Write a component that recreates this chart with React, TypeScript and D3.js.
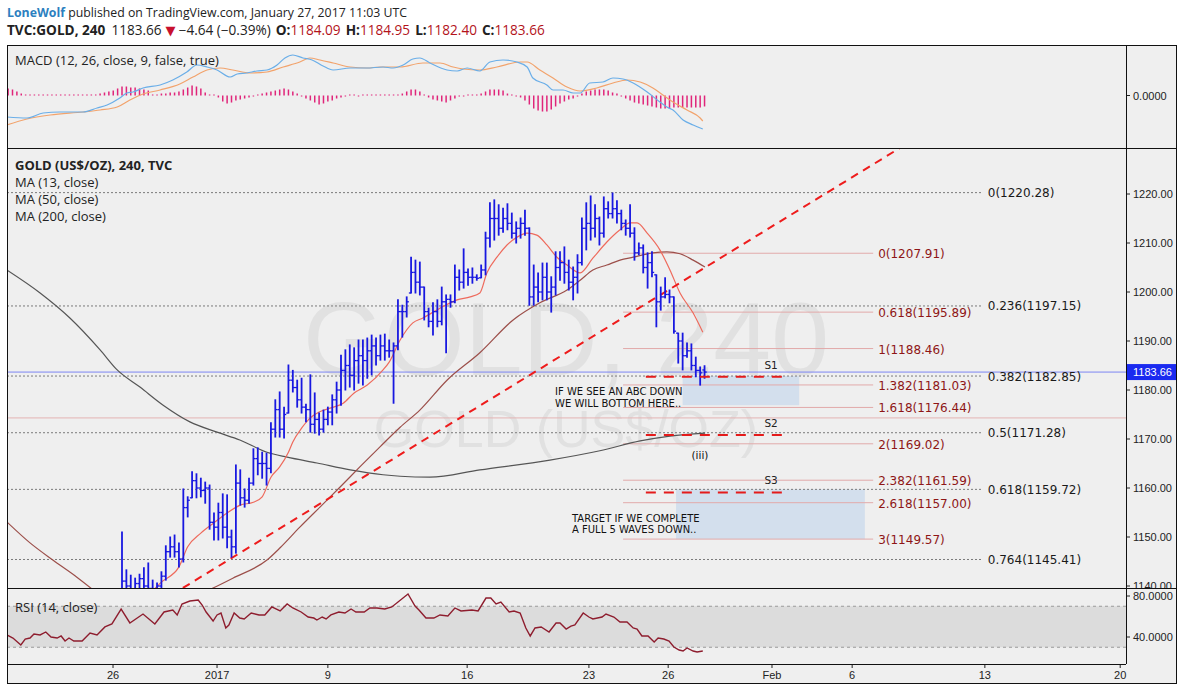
import React from "react";
import * as d3 from "d3";

// ---------- DATA (4h bars, index 0 = first bar visible in price pane) ----------
const barHigh = [
  1151.0, 1143.3, 1142.2, 1141.6, 1142.4, 1143.7, 1144.7, 1141.2, 1140.6, 1142.9,
  1148.2, 1150.0, 1150.4, 1148.8, 1159.8, 1158.2, 1163.3, 1162.9, 1162.0, 1161.2,
  1160.6, 1154.9, 1156.9, 1158.8, 1158.6, 1151.4, 1164.7, 1163.7, 1159.8, 1162.0,
  1168.0, 1168.2, 1167.3, 1167.1, 1173.3, 1178.0, 1179.6, 1176.5, 1185.1, 1184.0,
  1182.0, 1182.4, 1177.1, 1183.1, 1179.4, 1175.3, 1175.9, 1176.5, 1179.0, 1181.6,
  1187.1, 1188.2, 1189.2, 1188.6, 1190.2, 1190.2, 1190.6, 1191.2, 1190.6, 1191.2,
  1191.4, 1190.2, 1189.6, 1198.4, 1197.3, 1199.0, 1207.1, 1206.5, 1206.1, 1201.0,
  1196.7, 1197.8, 1198.4, 1201.0, 1199.4, 1199.4, 1205.5, 1204.5, 1208.8, 1204.7,
  1204.9, 1203.5, 1205.5, 1212.2, 1218.2, 1218.8, 1217.8, 1217.1, 1218.0, 1216.1,
  1214.3, 1215.1, 1216.7, 1213.1, 1205.5, 1203.9, 1205.9, 1205.9, 1203.1, 1208.2,
  1208.2, 1209.2, 1206.5, 1205.1, 1207.6, 1215.1, 1218.2, 1219.6, 1217.8, 1215.3,
  1219.4, 1218.4, 1220.2, 1218.6, 1216.7, 1214.7, 1217.8, 1213.1, 1210.0, 1209.6,
  1208.0, 1208.2, 1203.5, 1201.0, 1202.9, 1200.4, 1199.0, 1191.6, 1191.6, 1189.6,
  1189.4, 1186.7, 1184.7, 1184.95,
];
const barLow = [
  1133.5, 1138.5, 1137.5, 1137.8, 1138.0, 1139.5, 1138.2, 1138.0, 1137.5, 1138.5,
  1141.2, 1145.9, 1145.9, 1143.9, 1144.9, 1154.1, 1158.0, 1158.0, 1158.2, 1156.9,
  1151.6, 1149.4, 1149.4, 1149.8, 1147.8, 1145.9, 1146.7, 1156.5, 1156.1, 1156.9,
  1160.6, 1162.7, 1162.0, 1160.6, 1163.1, 1170.4, 1170.4, 1170.2, 1175.3, 1179.6,
  1176.5, 1175.3, 1173.5, 1171.4, 1171.2, 1170.8, 1171.4, 1172.9, 1172.9, 1175.3,
  1176.9, 1180.0, 1180.6, 1180.0, 1181.4, 1181.0, 1182.4, 1183.1, 1185.1, 1186.1,
  1186.1, 1186.7, 1177.3, 1188.2, 1190.8, 1194.9, 1199.8, 1199.8, 1199.4, 1194.3,
  1192.9, 1191.2, 1192.9, 1193.3, 1187.6, 1196.9, 1197.8, 1200.4, 1200.8, 1201.4,
  1201.8, 1202.4, 1202.9, 1203.5, 1209.2, 1210.6, 1211.6, 1212.2, 1212.7, 1211.0,
  1210.0, 1211.0, 1211.6, 1197.3, 1197.3, 1198.0, 1198.4, 1198.4, 1195.9, 1199.4,
  1202.4, 1201.8, 1200.4, 1198.4, 1199.8, 1205.5, 1208.6, 1210.6, 1211.2, 1209.6,
  1211.2, 1215.1, 1215.1, 1214.1, 1212.7, 1211.6, 1211.2, 1206.5, 1207.6, 1203.9,
  1200.8, 1203.1, 1192.9, 1196.3, 1198.8, 1197.8, 1191.6, 1185.5, 1184.1, 1186.7,
  1184.1, 1182.7, 1181.0, 1182.4,
];
const barOpen = [
  1136.0, 1141.0, 1140.0, 1139.0, 1140.5, 1141.5, 1140.0, 1139.5, 1139.0, 1140.0,
  1142.0, 1147.0, 1148.0, 1147.0, 1145.5, 1156.0, 1158.0, 1161.5, 1160.0, 1159.5,
  1160.0, 1153.0, 1152.0, 1155.0, 1152.0, 1150.0, 1148.0, 1161.0, 1158.0, 1157.5,
  1161.0, 1166.0, 1165.0, 1165.0, 1164.0, 1172.0, 1176.0, 1172.0, 1175.3, 1182.0,
  1180.5, 1178.0, 1176.5, 1176.0, 1173.0, 1174.0, 1172.0, 1174.0, 1175.5, 1178.0,
  1180.0, 1184.0, 1185.0, 1183.0, 1186.0, 1187.0, 1186.0, 1188.0, 1189.0, 1187.0,
  1189.0, 1188.0, 1188.0, 1189.0, 1196.0, 1196.0, 1199.8, 1204.0, 1202.0, 1201.0,
  1196.0, 1194.0, 1196.0, 1194.0, 1198.0, 1198.5, 1198.0, 1203.0, 1202.0, 1204.0,
  1203.0, 1203.0, 1202.9, 1204.5, 1211.0, 1215.0, 1215.0, 1213.0, 1215.0, 1214.0,
  1212.0, 1213.0, 1214.0, 1213.0, 1199.0, 1201.0, 1200.0, 1203.0, 1200.0, 1201.0,
  1205.0, 1206.0, 1204.0, 1202.0, 1203.0, 1206.0, 1213.0, 1214.0, 1213.0, 1215.0,
  1212.0, 1217.0, 1216.0, 1217.0, 1216.0, 1214.0, 1213.0, 1212.0, 1208.0, 1209.0,
  1205.0, 1206.0, 1203.5, 1198.0, 1199.0, 1199.5, 1199.0, 1191.6, 1190.0, 1187.0,
  1188.0, 1185.0, 1184.0, 1184.09,
];
const barClose = [
  1141.0, 1140.0, 1139.0, 1140.5, 1141.5, 1140.0, 1139.5, 1139.0, 1140.0, 1142.0,
  1147.0, 1148.0, 1147.0, 1145.5, 1156.0, 1157.5, 1161.5, 1160.0, 1159.5, 1160.0,
  1153.0, 1152.0, 1155.0, 1152.0, 1150.0, 1148.0, 1161.0, 1158.0, 1157.5, 1161.0,
  1166.0, 1165.0, 1165.0, 1164.0, 1172.0, 1176.0, 1172.0, 1175.0, 1182.0, 1180.5,
  1178.0, 1176.5, 1176.0, 1173.0, 1174.0, 1172.0, 1174.0, 1175.5, 1178.0, 1180.0,
  1184.0, 1185.0, 1183.0, 1186.0, 1187.0, 1186.0, 1188.0, 1189.0, 1187.0, 1189.0,
  1188.0, 1188.0, 1189.0, 1196.0, 1196.0, 1198.0, 1204.0, 1202.0, 1201.0, 1196.0,
  1194.0, 1196.0, 1194.0, 1198.0, 1198.5, 1198.0, 1203.0, 1202.0, 1204.0, 1203.0,
  1203.0, 1202.8, 1204.5, 1211.0, 1215.0, 1215.0, 1213.0, 1215.0, 1214.0, 1212.0,
  1213.0, 1214.0, 1213.0, 1199.0, 1201.0, 1200.0, 1203.0, 1200.0, 1201.0, 1205.0,
  1206.0, 1204.0, 1202.0, 1203.0, 1206.0, 1213.0, 1214.0, 1213.0, 1215.0, 1212.0,
  1217.0, 1216.0, 1217.0, 1216.0, 1214.0, 1213.0, 1212.0, 1208.0, 1209.0, 1205.0,
  1206.0, 1204.0, 1198.0, 1199.0, 1199.5, 1199.0, 1192.0, 1190.0, 1187.0, 1188.0,
  1185.0, 1184.0, 1183.5, 1183.66,
];

// moving averages: [bar index, price]
const ma13 = [
  [0, 1136], [5, 1137.5], [9, 1140.8], [13, 1143.9], [15, 1148.0], [18, 1150.8], [21, 1152.9],
  [24, 1154.9], [27, 1156.5], [30, 1157.1], [32, 1158.2], [34, 1162.2], [36, 1164.3],
  [38, 1167.3], [39, 1169.4], [41, 1172.2], [43, 1174.3], [45, 1175.5], [47.5, 1176.3],
  [50.5, 1177.3], [53, 1179.4], [56, 1181.0], [59.6, 1184.1], [61, 1185.7], [63.5, 1190.2],
  [66.4, 1193.7], [68.7, 1194.7], [72.6, 1196.7], [76.5, 1198.4], [79.5, 1199.0],
  [81.7, 1199.8], [83.3, 1203.9], [85.6, 1207.1], [87.9, 1209.6], [90.2, 1211.2],
  [92.5, 1212.0], [94.7, 1211.6], [97, 1209.6], [99.3, 1207.1], [101.6, 1205.5],
  [104.6, 1203.9], [107.5, 1206.9], [110.7, 1210.2], [113.7, 1212.7], [116, 1214.1],
  [117.6, 1214.1], [119.9, 1212.0], [122.8, 1208.6], [125.1, 1204.5], [127.4, 1199.8],
  [130.4, 1195.7], [132.6, 1191.8],
];
const ma50 = [
  [-26.3, 1153.1], [-21, 1148.8], [-15.8, 1145.3], [-10.3, 1141.8], [-6.6, 1139.2],
  [-3, 1136.5], [5, 1134.5], [13, 1136.5], [20.8, 1139.6], [25.3, 1141.6], [33.1, 1145.3],
  [36.1, 1147.8], [40.6, 1152.0], [45.2, 1156.1], [49.8, 1160.2], [54.3, 1164.3],
  [58.9, 1168.4], [63.5, 1172.4], [68, 1175.9], [74.2, 1182.0], [81.7, 1187.6],
  [89.3, 1194.3], [95.4, 1197.8], [101.6, 1200.4], [104.6, 1202.4], [107.5, 1204.5],
  [110.7, 1205.5], [113.7, 1206.5], [116.7, 1207.1], [121.2, 1208.0], [124.4, 1208.2],
  [127.4, 1207.8], [130.4, 1206.5], [133.1, 1205.1],
];
const ma200 = [
  [-26.3, 1204.5], [-18.7, 1199.8], [-11.9, 1194.7], [-5, 1188.2], [-1.1, 1184.1],
  [4.1, 1180.6], [9.4, 1176.9], [15.5, 1173.5], [21.7, 1171.4], [26.9, 1169.8],
  [33.1, 1167.3], [37.7, 1166.3], [44.5, 1165.1], [52.1, 1163.7], [59.6, 1162.7],
  [63.5, 1162.4], [70.3, 1162.2], [81.7, 1163.7], [97.7, 1165.7], [109.1, 1167.6],
  [118.3, 1169.6], [125.1, 1170.6], [133.1, 1171.2],
];

// RSI(14): [bar index, value]
const rsi = [
  [-26.3, 42.0], [-24.9, 39.0], [-23.1, 32.2], [-22.1, 38.0], [-21.0, 39.0], [-20.1, 42.9],
  [-18.7, 42.0], [-17.4, 44.9], [-16.2, 40.0], [-14.8, 39.0], [-13.9, 41.0], [-13.0, 36.1],
  [-12.1, 39.0], [-11.0, 36.1], [-9.1, 36.1], [-7.3, 43.9], [-5.7, 42.0], [-3.9, 49.8],
  [-2.3, 52.7], [-0.2, 67.3], [1.8, 53.7], [4.8, 62.4], [7.5, 52.7], [9.6, 64.4],
  [11.6, 66.3], [12.6, 61.5], [13.7, 72.2], [15.5, 75.1], [17.4, 76.1], [18.3, 71.2],
  [19.2, 64.4], [20.8, 55.6], [21.7, 61.5], [22.6, 63.4], [23.7, 48.8], [24.4, 51.7],
  [25.6, 63.4], [26.9, 58.5], [27.9, 57.6], [29.5, 63.4], [31.3, 61.5], [32.6, 61.5],
  [34.2, 69.3], [36.1, 65.4], [37.7, 72.2], [39.0, 68.3], [40.9, 64.4], [42.5, 59.5],
  [43.8, 58.5], [44.5, 56.6], [45.7, 59.5], [46.6, 57.6], [47.7, 61.5], [49.5, 64.4],
  [50.9, 63.4], [52.3, 67.3], [53.4, 64.4], [55.3, 64.4], [56.6, 68.3], [58.2, 68.3],
  [60.0, 67.3], [61.6, 69.3], [65.3, 82.0], [66.9, 70.2], [67.8, 66.3], [69.4, 58.5],
  [71.2, 58.5], [72.6, 61.5], [74.4, 60.5], [76.0, 68.3], [77.4, 65.4], [79.9, 66.3],
  [81.3, 65.4], [83.1, 78.0], [84.2, 78.0], [85.4, 72.2], [86.5, 74.1], [88.4, 64.4],
  [89.5, 65.4], [90.9, 63.4], [92.2, 48.8], [93.2, 41.0], [94.3, 48.8], [95.7, 49.8],
  [97.5, 44.9], [99.1, 53.7], [100.0, 53.7], [101.4, 47.8], [102.5, 50.7], [103.4, 51.7],
  [105.3, 63.4], [106.6, 59.5], [107.5, 57.6], [109.6, 59.5], [110.5, 62.4], [112.3, 59.5],
  [113.7, 54.6], [115.3, 54.6], [116.7, 48.8], [117.6, 47.8], [118.7, 41.0], [120.1, 41.0],
  [121.5, 35.1], [122.4, 39.0], [123.7, 38.0], [124.9, 36.1], [126.0, 30.2], [127.2, 27.3],
  [128.1, 26.3], [129.0, 29.3], [130.4, 26.3], [131.3, 25.4], [132.6, 26.3],
];

// MACD(12,26,9): [bar index, value]
const macdLine = [
  [-26.3, -3.58], [-21.7, -3.75], [-18.0, -2.92], [-14.2, -2.75], [-8.9, -2.75], [-5.7, -2.08],
  [-3.4, -1.58], [-0.5, -0.42], [1.1, 0.42], [2.5, 0.58], [4.8, 1.25], [8.7, 1.75],
  [11.6, 2.58], [14.8, 3.92], [17.1, 5.08], [19.4, 4.75], [21.7, 4.25], [24.7, 3.08],
  [26.3, 3.58], [28.5, 3.75], [30.8, 4.08], [33.1, 4.25], [35.4, 5.08], [37.2, 6.25],
  [39.0, 6.75], [41.3, 6.25], [43.4, 5.92], [45.9, 4.92], [48.2, 4.25], [52.1, 4.58],
  [55.9, 4.58], [59.6, 4.75], [61.9, 4.58], [64.2, 5.08], [66.4, 6.08], [68.0, 6.25],
  [70.3, 5.42], [74.2, 4.25], [76.5, 4.08], [78.8, 4.58], [81.7, 4.08], [84.0, 5.58],
  [87.0, 5.92], [90.2, 5.58], [92.5, 4.75], [93.8, 2.92], [97.0, 1.75], [98.4, 0.92],
  [100.7, 0.92], [103.0, 0.42], [104.6, 0.42], [106.8, 2.08], [109.8, 2.25], [112.1, 2.92],
  [114.4, 2.75], [116.7, 2.08], [119.9, 0.58], [122.8, -1.08], [124.4, -1.92],
  [125.8, -2.42], [128.1, -4.08], [130.4, -4.92], [132.6, -5.58],
];
const signalLine = [
  [-26.3, -4.92], [-21.7, -3.92], [-16.4, -3.25], [-8.9, -2.75], [-5.0, -2.42], [-1.1, -1.92],
  [1.8, -0.75], [4.8, 0.25], [8.7, 0.92], [13.2, 1.92], [16.2, 3.08], [19.4, 4.25],
  [22.4, 4.58], [25.3, 4.25], [29.2, 3.75], [33.1, 3.92], [36.8, 4.75], [40.6, 5.58],
  [42.9, 6.25], [45.2, 5.92], [48.2, 5.42], [52.1, 4.75], [55.9, 4.58], [58.9, 4.75],
  [63.5, 4.75], [68.7, 5.42], [72.6, 5.42], [75.6, 4.75], [77.9, 4.42], [81.7, 4.25],
  [85.6, 4.75], [90.9, 5.58], [92.5, 5.58], [95.4, 4.25], [98.4, 2.92], [101.6, 1.42],
  [104.6, 0.75], [108.4, 1.25], [112.1, 2.08], [115.3, 2.58], [118.3, 2.25], [121.2, 1.25],
  [123.5, 0.08], [125.8, -1.08], [129.0, -2.42], [132.0, -3.75], [132.6, -4.25],
];
const histStart = -26;
const histVals = [
  1.17, 1.0, 0.67, 0.33, 0.17,
  0.07, 0.07, 0.07, 0.07, 0.07, 0.07, 0.07, 0.07, 0, 0.07, 0.07, 0.07, 0, 0,
  0.17, 0.17, 0.33, 0.5, 0.67, 0.83,
  1.17, 1.5, 1.5, 1.33, 1.33, 1.17, 1.0, 0.83,
  0.17, 0.17, 0.33, 0.33, 0.5, 0.5, 0.67,
  1.0, 1.33, 1.67, 1.5, 1.17,
  0.5, 0.17,
  0,
  -0.33, -1.0, -1.33, -1.17, -0.83, -0.67, -0.5, -0.33, -0.17,
  0.17, 0.33, 0.5, 0.67, 0.83, 1.0, 1.17, 1.0, 0.67, 0.33,
  -0.17, -0.5, -0.83, -1.17, -1.5, -1.33, -1.0, -0.83, -0.5, -0.33, -0.17,
  0.08, 0.08, -0.08, 0.08, 0, 0.08, 0.08, 0, 0.08, 0.05, 0.05, 0.08,
  0.33, 0.67, 1.0, 1.0, 0.67,
  0.17,
  -0.33, -0.67, -0.83, -1.0, -1.17, -0.83, -0.5,
  -0.17, -0.08, 0.08, 0.08, 0.17,
  0.33, 0.67, 1.0, 1.0, 1.0, 0.83, 0.33,
  0.08, -0.08,
  -0.33, -0.83, -1.5, -2.17, -2.5, -2.67, -2.67, -2.33, -1.83, -1.33, -1.0, -0.67, -0.5, -0.17,
  0.33, 0.67, 0.83, 1.0, 1.0, 1.0, 0.83, 0.5, 0.33,
  -0.17, -0.5, -0.83, -1.17, -1.33, -1.5, -1.67, -1.83, -2.0, -2.17, -2.17, -2.17, -2.0, -2.0,
  -2.0, -2.0, -2.0, -2.0, -2.0, -1.83,
];

const priceTicks = [1220, 1210, 1200, 1190, 1180, 1170, 1160, 1150, 1140];
const dateLabels = ["26", "2017", "9", "16", "23", "26", "Feb", "6", "13", "20"];
const dateIdx = [-2.05, 21.7, 47.0, 78.8, 106.6, 124.7, 148.4, 166.7, 197.0, 227.9];

const fibRetLevels = ["0", "0.236", "0.382", "0.5", "0.618", "0.764"];
const fibRetPrices = [1220.28, 1197.15, 1182.85, 1171.28, 1159.72, 1145.41];
const fibExtLevels = ["0", "0.618", "1", "1.382", "1.618", "2", "2.382", "2.618", "3"];
const fibExtPrices = [1207.91, 1195.89, 1188.46, 1181.03, 1176.44, 1169.02, 1161.59, 1157.0, 1149.57];
const supportNames = ["S1", "S2", "S3"];
const supportPrices = [1182.7, 1170.8, 1159.1];
const trendA = [13.9, 1139.6];
const trendB = [177.6, 1229.4];
const boxABC = [128.0, 154.6, 1182.85, 1176.9];
const boxTarget = [126.5, 169.6, 1159.72, 1149.57];
const lastPrice = 1183.66;
const pinkLinePrice = 1174.3;

// ---------- LAYOUT ----------
const L = 7, R = 1126, RE = 1177;
const mTop = 45, mBot = 148, pTop = 148, pBot = 588, rTop = 588, rBot = 664, aBot = 684;
const UI = "'Open Sans', sans-serif";
const AX = "'Liberation Sans', Arial, sans-serif";
const FB = "'DejaVu Sans', sans-serif";

export default function App() {
  const x = d3.scaleLinear().domain([0, 133]).range([122, 122 + 133 * 4.38]);
  const y = d3.scaleLinear().domain([1220, 1140]).range([194, 586]);
  const yM = d3.scaleLinear().domain([0, 1]).range([95.5, 89.5]);
  const yR = d3.scaleLinear().domain([80, 40]).range([596, 637]);

  const mk = (sy: any, curve: any) =>
    d3.line<number[]>().x((d) => x(d[0])).y((d) => sy(d[1])).curve(curve);
  const maLine = mk(y, d3.curveMonotoneX);
  const rsiLine = mk(yR, d3.curveLinear);
  const mLine = mk(yM, d3.curveMonotoneX);

  const retEnd = 196.3, extStart = 114.4, extEnd = 171.5, sStart = 119.6, sEnd = 151.8;

  return (
    <svg width={1184} height={691} style={{ display: "block", position: "absolute", left: 0, top: 0, background: "#fff" }}>
      <defs>
        <clipPath id="cm"><rect x={L} y={mTop} width={R - L} height={mBot - mTop} /></clipPath>
        <clipPath id="cp"><rect x={L} y={pTop} width={R - L} height={pBot - pTop} /></clipPath>
        <clipPath id="cr"><rect x={L} y={rTop} width={R - L} height={rBot - rTop} /></clipPath>
        <clipPath id="cpa"><rect x={R} y={pTop} width={RE - R} height={pBot - pTop} /></clipPath>
      </defs>

      {/* header */}
      <text x={7} y={17} fontFamily={UI} fontSize={12.3} fill="#222">
        <tspan fill="#2c7fc0" fontWeight="bold">LoneWolf</tspan>
        <tspan> published on TradingView.com, January 27, 2017 11:03 UTC</tspan>
      </text>
      <text x={7} y={35} fontFamily={UI} fontSize={13.6} fill="#222">
        <tspan fontWeight="bold">TVC:GOLD, 240</tspan>
        <tspan dx={6}>1183.66</tspan>
        <tspan dx={4} fill="#c8102e" fontFamily={FB} fontSize={13}>▼</tspan>
        <tspan dx={3}>−4.64 (−0.39%)</tspan>
        <tspan dx={5} fontWeight="bold">O:</tspan><tspan fill="#b3131b">1184.09</tspan>
        <tspan dx={5} fontWeight="bold">H:</tspan><tspan fill="#b3131b">1184.95</tspan>
        <tspan dx={5} fontWeight="bold">L:</tspan><tspan fill="#b3131b">1182.40</tspan>
        <tspan dx={5} fontWeight="bold">C:</tspan><tspan fill="#b3131b">1183.66</tspan>
      </text>

      {/* frame background */}
      <rect x={L} y={mTop} width={RE - L} height={aBot - mTop} fill="#efefef" />

      {/* ---------- MACD pane ---------- */}
      <g clipPath="url(#cm)">
        {histVals.map((v, k) => {
          const i = histStart + k;
          const y0 = yM(0);
          let y1 = yM(v);
          if (Math.abs(y1 - y0) < 1) y1 = y0 - (v < 0 ? -1 : 1);
          return <line key={k} x1={x(i)} x2={x(i)} y1={y0} y2={y1} stroke="#e0257a" strokeWidth={1.5} />;
        })}
        <path d={mLine(signalLine as any) || ""} fill="none" stroke="#f2a36c" strokeWidth={1.2} />
        <path d={mLine(macdLine as any) || ""} fill="none" stroke="#6aaee8" strokeWidth={1.2} />
      </g>
      <text x={15} y={65} fontFamily={UI} fontSize={13} fill="#222">MACD (12, 26, close, 9, false, true)</text>
      <line x1={R} x2={R + 4} y1={yM(0)} y2={yM(0)} stroke="#222" />
      <text x={1133} y={yM(0) + 4} fontFamily={AX} fontSize={11} fill="#222">0.0000</text>

      {/* ---------- PRICE pane ---------- */}
      <g clipPath="url(#cp)">
        <text x={566} y={375} textAnchor="middle" fontFamily={AX} fontSize={104} fill="#e1e1e1">GOLD, 240</text>
        <text x={566} y={447} textAnchor="middle" fontFamily={AX} fontSize={52} fill="#e1e1e1">GOLD (US$/OZ)</text>

        {/* boxes */}
        {[boxABC, boxTarget].map((b, k) => (
          <rect key={k} x={x(b[0])} y={y(b[2])} width={x(b[1]) - x(b[0])} height={y(b[3]) - y(b[2])}
            fill="#c9d9ec" fillOpacity={0.75} />
        ))}

        {/* horizontal lines */}
        <line x1={L} x2={R} y1={y(pinkLinePrice)} y2={y(pinkLinePrice)} stroke="#e4b3b3" strokeWidth={1} />
        <line x1={L} x2={R} y1={y(lastPrice)} y2={y(lastPrice)} stroke="#7c86f2" strokeWidth={1} />

        {fibRetPrices.map((p, k) => (
          <line key={k} x1={L} x2={x(retEnd)} y1={y(p)} y2={y(p)} stroke="#7a7a7a" strokeWidth={1} strokeDasharray="2,2" />
        ))}
        {fibExtPrices.map((p, k) => (
          <line key={k} x1={x(extStart)} x2={x(extEnd)} y1={y(p)} y2={y(p)} stroke="#e2aaaa" strokeWidth={1} />
        ))}

        {/* moving averages */}
        <path d={maLine(ma200 as any) || ""} fill="none" stroke="#555" strokeWidth={1.2} />
        <path d={maLine(ma50 as any) || ""} fill="none" stroke="#9c4f4a" strokeWidth={1.2} />
        <path d={maLine(ma13 as any) || ""} fill="none" stroke="#ee6a5c" strokeWidth={1.2} />

        {/* trend line */}
        <line x1={x(trendA[0])} y1={y(trendA[1])} x2={x(trendB[0])} y2={y(trendB[1])}
          stroke="#ee1c1c" strokeWidth={2} strokeDasharray="8,6" />

        {/* bars */}
        {barHigh.map((h, i) => {
          const cx = x(i);
          return (
            <g key={i} stroke="#1818e0" strokeWidth={1.8}>
              <line x1={cx} x2={cx} y1={y(h) - 0.5} y2={y(barLow[i]) + 0.5} />
              <line x1={cx - 2.2} x2={cx} y1={y(barOpen[i])} y2={y(barOpen[i])} strokeWidth={1.3} />
              <line x1={cx} x2={cx + 2.2} y1={y(barClose[i])} y2={y(barClose[i])} strokeWidth={1.3} />
            </g>
          );
        })}

        {/* supports */}
        {supportPrices.map((p, k) => (
          <g key={k}>
            <line x1={x(sStart)} x2={x(sEnd)} y1={y(p)} y2={y(p)} stroke="#e41b1b" strokeWidth={2} strokeDasharray="10,8" />
            <text x={x(148.2)} y={y(p) - 8} textAnchor="middle" fontFamily={FB} fontSize={10.5} fill="#222">{supportNames[k]}</text>
          </g>
        ))}

        {/* annotations */}
        <g fontFamily={FB} fontSize={10} fill="#111">
          <text x={555} y={395}>IF WE SEE AN ABC DOWN</text>
          <text x={555} y={407}>WE WILL BOTTOM HERE..</text>
          <text x={572} y={522}>TARGET IF WE COMPLETE</text>
          <text x={572} y={533}>A FULL 5 WAVES DOWN..</text>
          <text x={700} y={459} textAnchor="middle" fontSize={10.5}>(iii)</text>
        </g>

        {/* fib labels */}
        {fibRetPrices.map((p, k) => (
          <text key={k} x={x(retEnd) + 6} y={y(p) + 4.5} fontFamily={FB} fontSize={12} fill="#1a1a1a">
            {`${fibRetLevels[k]}(${p.toFixed(2)})`}
          </text>
        ))}
        {fibExtPrices.map((p, k) => (
          <text key={k} x={x(extEnd) + 5} y={y(p) + 5} fontFamily={FB} fontSize={12} fill="#8e1616">
            {`${fibExtLevels[k]}(${p.toFixed(2)})`}
          </text>
        ))}
      </g>
      <text x={15} y={170} fontFamily={UI} fontSize={13} fontWeight="bold" fill="#222">GOLD (US$/OZ), 240, TVC</text>
      <text x={15} y={187} fontFamily={UI} fontSize={13} fill="#222">MA (13, close)</text>
      <text x={15} y={204} fontFamily={UI} fontSize={13} fill="#222">MA (50, close)</text>
      <text x={15} y={221} fontFamily={UI} fontSize={13} fill="#222">MA (200, close)</text>

      {/* price axis */}
      <g clipPath="url(#cpa)">
        {priceTicks.map((p) => (
          <g key={p}>
            <line x1={R} x2={R + 4} y1={y(p)} y2={y(p)} stroke="#222" />
            <text x={1133} y={y(p) + 4} fontFamily={AX} fontSize={11} fill="#222">{p.toFixed(2)}</text>
          </g>
        ))}
        <rect x={R + 1} y={y(lastPrice) - 8} width={RE - R - 1} height={16} fill="#1a2af0" />
        <text x={1133} y={y(lastPrice) + 4} fontFamily={AX} fontSize={11} fill="#fff">{lastPrice.toFixed(2)}</text>
      </g>

      {/* ---------- RSI pane ---------- */}
      <rect x={L} y={yR(70)} width={R - L} height={yR(30) - yR(70)} fill="#dcdcdc" />
      <line x1={L} x2={R} y1={yR(70)} y2={yR(70)} stroke="#9a9a9a" strokeDasharray="3,3" />
      <line x1={L} x2={R} y1={yR(30)} y2={yR(30)} stroke="#9a9a9a" strokeDasharray="3,3" />
      <g clipPath="url(#cr)">
        <path d={rsiLine(rsi as any) || ""} fill="none" stroke="#8e1d2e" strokeWidth={1.4} />
      </g>
      <text x={15} y={612} fontFamily={UI} fontSize={13} fill="#222">RSI (14, close)</text>
      {[80, 40].map((v) => (
        <g key={v}>
          <line x1={R} x2={R + 4} y1={yR(v)} y2={yR(v)} stroke="#222" />
          <text x={1133} y={yR(v) + 4} fontFamily={AX} fontSize={11} fill="#222">{v.toFixed(4)}</text>
        </g>
      ))}

      {/* ---------- time axis ---------- */}
      {dateLabels.map((lab, k) => (
        <g key={k}>
          <line x1={x(dateIdx[k])} x2={x(dateIdx[k])} y1={rBot} y2={rBot + 4} stroke="#222" />
          <text x={x(dateIdx[k])} y={679} textAnchor="middle" fontFamily={AX} fontSize={11} fill="#222">{lab}</text>
        </g>
      ))}

      {/* borders */}
      <g fill="none" stroke="#111" strokeWidth={1}>
        <rect x={L + 0.5} y={mTop + 0.5} width={RE - L - 1} height={aBot - mTop - 1} />
        <line x1={L} x2={RE} y1={mBot + 0.5} y2={mBot + 0.5} />
        <line x1={L} x2={RE} y1={pBot + 0.5} y2={pBot + 0.5} />
        <line x1={L} x2={R} y1={rBot + 0.5} y2={rBot + 0.5} />
        <line x1={R + 0.5} x2={R + 0.5} y1={mTop} y2={rBot} />
      </g>
    </svg>
  );
}
